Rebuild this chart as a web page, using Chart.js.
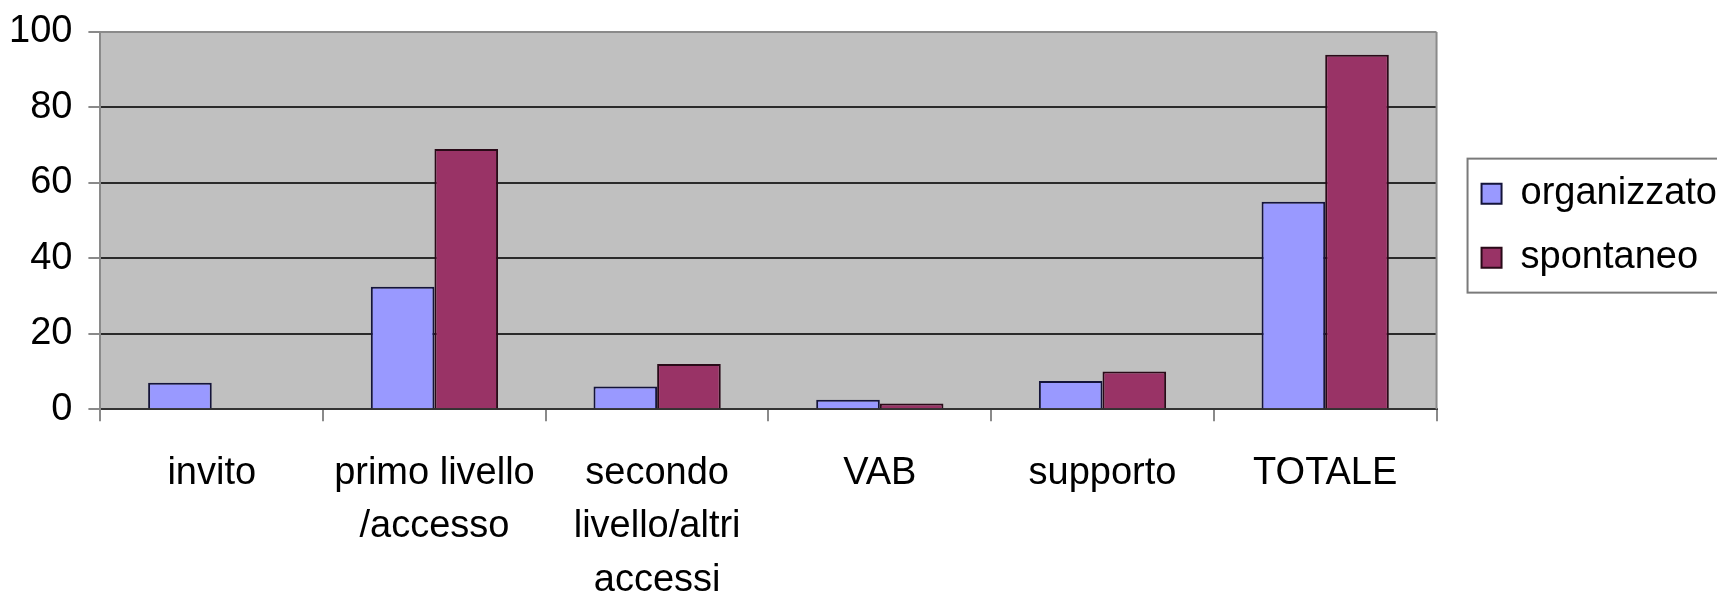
<!DOCTYPE html>
<html lang="it">
<head>
  <meta charset="UTF-8">
  <title>organizzato / spontaneo</title>
  <script src="https://cdn.jsdelivr.net/npm/chart.js"></script>
  <style>
    body {
      margin: 0;
      background: #ffffff;
      overflow: hidden;
    }
    #wrap {
      width: 1717px;
      height: 596px;
      position: relative;
    }
  </style>
</head>
<body>
  <div id="wrap">
    <canvas id="chart"></canvas>
  </div>

  <script>
    // dati
    const categories = [
      ['invito'],
      ['primo livello', '/accesso'],
      ['secondo', 'livello/altri', 'accessi'],
      ['VAB'],
      ['supporto'],
      ['TOTALE']
    ];
    const seriesNames = ['organizzato', 'spontaneo'];
    const organizzato = [7, 32.5, 6, 2.5, 7.5, 55];
    const spontaneo = [0, 69, 12, 1.5, 10, 94];
    const yTicks = [0, 20, 40, 60, 80, 100];

    const FONT = { family: '"Liberation Sans", Arial, sans-serif', size: 38 };

    // sfondo grigio dell'area del grafico + bordo destro
    const plotBackground = {
      id: 'plotBackground',
      beforeDraw(chart) {
        const { ctx, chartArea: a } = chart;
        ctx.save();
        ctx.fillStyle = '#c0c0c0';
        ctx.fillRect(a.left, a.top, a.right - a.left, a.bottom - a.top);
        ctx.restore();
      },
      afterDatasetsDraw(chart) {
        const { ctx, chartArea: a } = chart;
        ctx.save();
        ctx.strokeStyle = '#8a8a8a';
        ctx.lineWidth = 2;
        ctx.beginPath();
        ctx.moveTo(a.right, a.top);
        ctx.lineTo(a.right, a.bottom);
        ctx.stroke();
        ctx.restore();
      }
    };

    // legenda staccata dal grafico e con cornice
    const legendFrame = {
      id: 'legendFrame',
      afterLayout(chart) {
        const lg = chart.legend;
        lg.left += 19; lg.right += 19;
        lg.top += 5; lg.bottom += 5;
      },
      afterDraw(chart) {
        const hb = chart.legend.legendHitBoxes;
        if (!hb || !hb.length) return;
        const last = hb[hb.length - 1];
        const x = hb[0].left - 14;
        const y = hb[0].top - 16;
        const ctx = chart.ctx;
        ctx.save();
        ctx.strokeStyle = '#7a7a7a';
        ctx.lineWidth = 2;
        ctx.strokeRect(x, y, chart.width + 10 - x, last.top + last.height + 16 - y);
        ctx.restore();
      }
    };

    new Chart(document.getElementById('chart'), {
      type: 'bar',
      data: {
        labels: categories,
        datasets: [
          {
            label: seriesNames[0],
            data: organizzato,
            backgroundColor: '#9999ff',
            borderColor: '#14143a',
            borderWidth: 2
          },
          {
            label: seriesNames[1],
            data: spontaneo,
            backgroundColor: '#993366',
            borderColor: '#2a0a18',
            borderWidth: 2
          }
        ]
      },
      options: {
        responsive: true,
        maintainAspectRatio: false,
        animation: false,
        categoryPercentage: 2 / 3.5,
        barPercentage: 1,
        layout: { padding: { left: -7, right: 9, top: 32, bottom: -36 } },
        plugins: {
          tooltip: { enabled: false },
          legend: {
            position: 'right',
            fullSize: false,
            labels: {
              font: FONT,
              color: '#000',
              boxWidth: 20,
              boxHeight: 20,
              padding: 26
            }
          }
        },
        scales: {
          x: {
            offset: true,
            grid: {
              offset: true,
              drawOnChartArea: false,
              drawTicks: true,
              tickLength: 12,
              tickColor: '#8a8a8a',
              lineWidth: 2
            },
            border: { display: true, color: '#333', width: 2 },
            ticks: {
              font: { ...FONT, lineHeight: 1.41 },
              color: '#000',
              padding: 25,
              maxRotation: 0,
              autoSkip: false
            }
          },
          y: {
            min: 0,
            max: 100,
            afterBuildTicks(scale) {
              scale.ticks = yTicks.map(v => ({ value: v }));
            },
            grid: {
              color: ctx => (ctx.tick && ctx.tick.value === 100 ? '#8a8a8a' : '#2a2a2a'),
              lineWidth: 2,
              tickLength: 12,
              tickColor: '#8a8a8a'
            },
            border: { display: true, color: '#8a8a8a', width: 2 },
            ticks: {
              font: { ...FONT, lineHeight: 0.8 },
              color: '#000',
              padding: 16
            }
          }
        }
      },
      plugins: [plotBackground, legendFrame]
    });
  </script>
</body>
</html>
